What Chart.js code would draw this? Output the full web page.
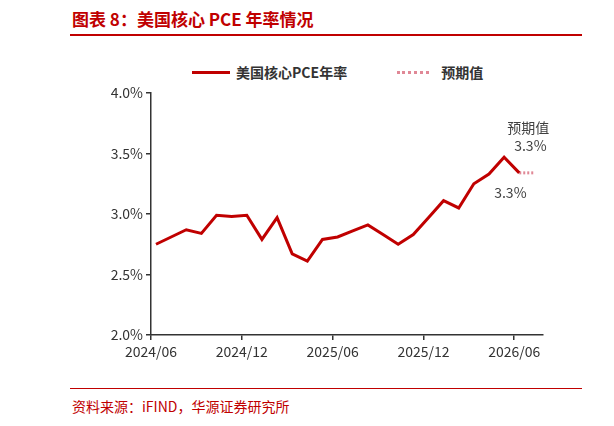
<!DOCTYPE html>
<html><head><meta charset="utf-8">
<script src="https://cdn.jsdelivr.net/npm/chart.js@4"></script>
<style>
body{margin:0;width:614px;height:426px;background:#fff;position:relative;font-family:"Noto Sans CJK SC",sans-serif;overflow:hidden}
#title{position:absolute;left:72px;top:6px;font-size:17px;font-weight:bold;color:#c00000;font-family:"Noto Sans CJK SC"}
#tl{position:absolute;left:70px;top:34px;width:512px;height:2px;background:#c00000}
#bl{position:absolute;left:70px;top:388px;width:512px;height:1px;background:#c00000}
#src{position:absolute;left:72px;top:396px;font-size:14px;color:#c00000}
#legend{position:absolute;left:192px;top:60px;font-size:14px;font-weight:bold;color:#333}
#legend span{display:inline-block;vertical-align:middle}
#wrap{position:absolute;left:0;top:80px;width:560px;height:280px}
</style></head><body>
<div id="title">图表 8：美国核心 PCE 年率情况</div>
<div id="tl"></div>
<div id="legend"><span style="width:38px;height:3px;background:#c00000"></span><span style="margin-left:6px">美国核心PCE年率</span><span style="width:32px;border-top:3px dotted #e08896;margin-left:50px"></span><span style="margin-left:12px">预期值</span></div>
<div id="wrap"><canvas id="c"></canvas></div>
<div id="bl"></div>
<div id="src">资料来源：iFIND，华源证券研究所</div>
<script>
const actualValues = [2.75,2.81,2.87,2.84,2.99,2.98,2.99,2.79,2.97,2.67,2.61,2.79,2.81,2.86,2.91,2.83,2.75,2.83,2.97,3.11,3.05,3.25,3.33,3.47,3.34];
const forecastValues = [3.34,3.34];
const tickLabels = ['2024/06','2024/12','2025/06','2025/12','2026/06'];
const tickPositions = [0,6,12,18,24];
const offset = 0.33;

const actualPts = actualValues.map((v,i)=>({x:i+offset,y:v}));
const forecastPts = forecastValues.map((v,i)=>({x:actualValues.length-1+i+offset,y:v}));

const labelPlugin = {
  id:'lbl',
  afterDatasetsDraw(chart){
    const {ctx,scales:{x,y}} = chart;
    ctx.save();
    ctx.font = '14px "Noto Sans CJK SC"';
    ctx.fillStyle = '#404040';
    ctx.textAlign = 'center';
    const lx = x.getPixelForValue(forecastPts[1].x);
    const ly = y.getPixelForValue(forecastPts[1].y);
    ctx.fillText('预期值', lx-6, ly-40);
    ctx.fillText(forecastValues[1].toFixed(1)+'%', lx-4, ly-22);
    ctx.fillText(actualValues[actualValues.length-1].toFixed(1)+'%', lx-24, ly+25);
    ctx.restore();
  }
};

new Chart(document.getElementById('c'),{
  type:'line',
  data:{datasets:[
    {data:actualPts,borderColor:'#c00000',borderWidth:3,pointRadius:0,tension:0},
    {data:forecastPts,borderColor:'#e08896',borderWidth:3,borderDash:[2,2],pointRadius:0}
  ]},
  options:{
    responsive:true,maintainAspectRatio:false,animation:false,
    layout:{padding:{top:13,right:17}},
    plugins:{legend:{display:false},tooltip:{enabled:false}},
    scales:{
      x:{type:'linear',min:0,max:25.9,
        afterBuildTicks(s){s.ticks=tickPositions.map(v=>({value:v}));},
        afterFit(s){s.height=25;},
        ticks:{autoSkip:false,maxRotation:0,color:'#333',font:{size:14,family:'"Noto Sans CJK SC"'},
          callback:(v)=>tickLabels[tickPositions.indexOf(v)]},
        grid:{drawOnChartArea:false,drawTicks:true,tickLength:5,color:'#333',lineWidth:1.5},
        border:{color:'#333',width:1.5}
      },
      y:{min:2.0,max:4.0,
        afterFit(s){s.width=151;},
        ticks:{stepSize:0.5,color:'#333',font:{size:14,family:'"Noto Sans CJK SC"'},callback:v=>v.toFixed(1)+'%'},
        grid:{drawOnChartArea:false,drawTicks:true,tickLength:5,color:'#333',lineWidth:1.5},
        border:{color:'#333',width:1.5}
      }
    }
  },
  plugins:[labelPlugin]
});
</script>
</body></html>
